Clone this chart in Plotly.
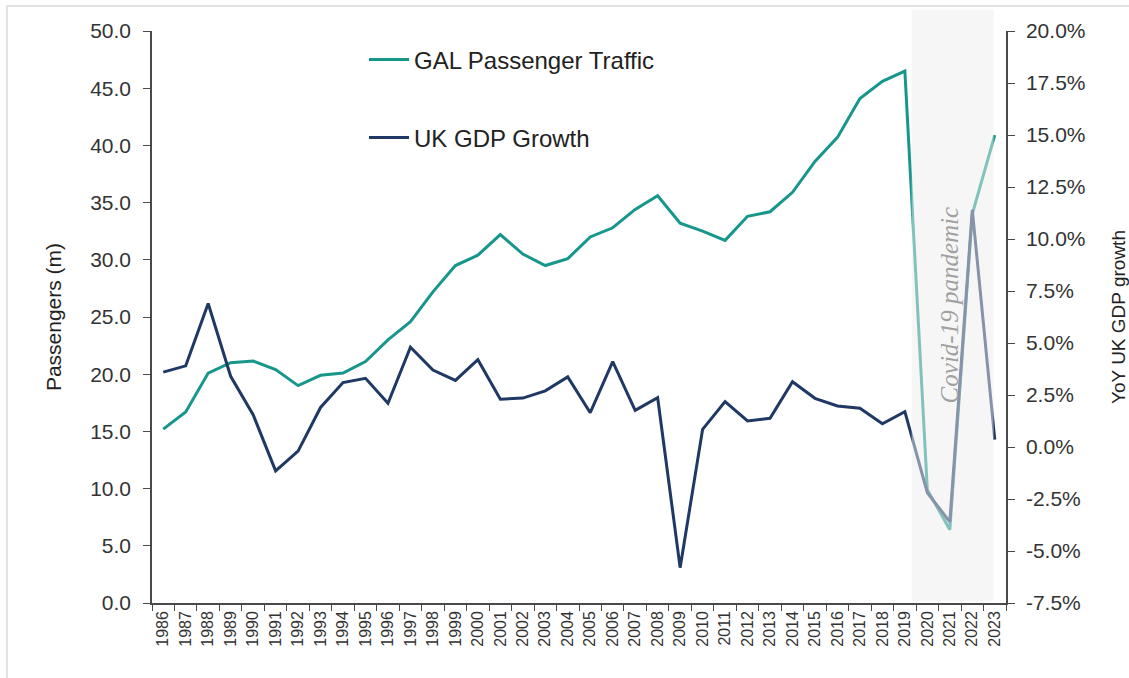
import plotly.graph_objects as go

years = list(range(1986, 2024))
passengers = [15.2, 16.7, 20.1, 21.0, 21.15, 20.4, 19.0, 19.9, 20.1, 21.1,
              23.0, 24.6, 27.2, 29.5, 30.4, 32.2, 30.5, 29.5, 30.1, 32.0,
              32.8, 34.4, 35.6, 33.2, 32.5, 31.7, 33.8, 34.2, 35.9, 38.6,
              40.7, 44.1, 45.6, 46.5, 9.9, 6.4, 34.0, 40.9]
gdp_growth = [3.6, 3.9, 6.9, 3.4, 1.55, -1.15, -0.2, 1.9, 3.1, 3.3,
              2.1, 4.8, 3.7, 3.2, 4.2, 2.3, 2.35, 2.7, 3.37, 1.65,
              4.1, 1.76, 2.37, -5.8, 0.85, 2.18, 1.25, 1.38, 3.14, 2.34,
              1.97, 1.86, 1.12, 1.7, -2.2, -3.6, 11.4, 0.35]
left_ticks = [0, 5, 10, 15, 20, 25, 30, 35, 40, 45, 50]
right_ticks = [-7.5, -5.0, -2.5, 0.0, 2.5, 5.0, 7.5, 10.0, 12.5, 15.0, 17.5, 20.0]
right_labels = [f"{v:.1f}%" for v in right_ticks]
pandemic_start, pandemic_end = 2019, 2023

TEAL = "#17968c"
NAVY = "#1f3864"
AX = "#4a4a4a"
FONT = "Liberation Sans, Arial, sans-serif"

x_labels = [str(y) for y in years]

fig = go.Figure()
fig.add_trace(go.Scatter(x=x_labels, y=passengers, mode="lines", name="GAL Passenger Traffic",
                         line=dict(color=TEAL, width=3), legend="legend"))
fig.add_trace(go.Scatter(x=x_labels, y=gdp_growth, mode="lines", name="UK GDP Growth",
                         line=dict(color=NAVY, width=3), yaxis="y2", legend="legend2"))

i0 = years.index(pandemic_start)
i1 = years.index(pandemic_end)
fig.add_shape(type="rect", xref="x", yref="paper", x0=i0 + 0.3, x1=i1 - 0.05,
              y0=0.004, y1=1.037, fillcolor="rgba(237,237,237,0.5)", line=dict(width=0),
              layer="above")
fig.add_annotation(x=(i0 + i1) / 2, xref="x", y=0.52, yref="paper",
                   text="<i>Covid-19 pandemic</i>", textangle=-90, showarrow=False,
                   font=dict(family="Liberation Serif, Times New Roman, serif", size=25, color="#a0a0a0"))

# light frame around the picture (top and left edges)
pw, ph = 1129 - 152 - 123, 678 - 31 - 75
xl = (7 - 152) / pw
yt = (603 - 6) / ph
fig.add_shape(type="path", xref="paper", yref="paper",
              path=f"M {xl},{(603-678)/ph} L {xl},{yt} L {(1129-152)/pw},{yt}",
              line=dict(color="#e3e3e3", width=2))

fig.update_layout(
    width=1129, height=678,
    margin=dict(l=152, r=123, t=31, b=75, autoexpand=False),
    paper_bgcolor="white", plot_bgcolor="white",
    font=dict(family=FONT, color="#333333"),
    showlegend=True,
    legend=dict(x=(364 - 152) / pw, xanchor="left", y=(603 - 60) / ph, yanchor="middle",
                itemwidth=40, font=dict(size=24, color="#222222"), bgcolor="rgba(0,0,0,0)"),
    legend2=dict(x=(364 - 152) / pw, xanchor="left", y=(603 - 138) / ph, yanchor="middle",
                 itemwidth=40, font=dict(size=24, color="#222222"), bgcolor="rgba(0,0,0,0)"),
    xaxis=dict(type="category", range=[-0.5, len(years) - 0.5], tickson="boundaries",
               ticks="outside", ticklen=6, tickcolor=AX, tickangle=-90, automargin=False,
               tickfont=dict(size=16, color="#333333"), showline=True, linecolor=AX,
               linewidth=1.5, showgrid=False, zeroline=False),
    yaxis=dict(range=[0, 50], tickvals=left_ticks, tickformat=".1f", ticks="outside",
               ticklen=7, tickcolor=AX, showline=True, linecolor=AX, linewidth=1.5,
               showgrid=False, zeroline=False, tickfont=dict(size=21, color="#333333"),
               ticklabelstandoff=8, automargin=False,
               title=dict(text="Passengers (m)", font=dict(size=21, color="#222222"), standoff=23)),
    yaxis2=dict(range=[-7.5, 20], overlaying="y", side="right", tickvals=right_ticks,
                ticktext=right_labels, ticks="outside", ticklen=7, tickcolor=AX,
                showline=True, linecolor=AX, linewidth=1.5, showgrid=False, zeroline=False,
                tickfont=dict(size=21, color="#333333"), ticklabelstandoff=7, automargin=False,
                title=dict(text="YoY UK GDP growth", font=dict(size=19, color="#222222"), standoff=28)),
)

fig.write_html("out.html")
